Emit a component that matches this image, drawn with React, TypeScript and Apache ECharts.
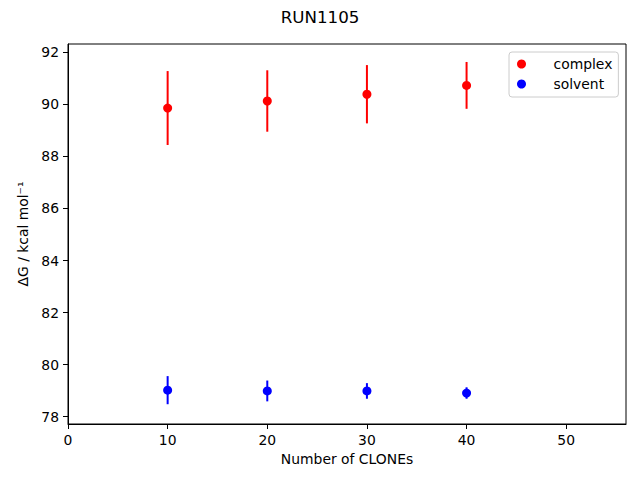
import React, { useEffect, useRef } from "react";
import * as echarts from "echarts";

const clones = [10, 20, 30, 40];
const complexDG = [89.86, 90.13, 90.39, 90.73];
const complexErr = [1.42, 1.18, 1.12, 0.9];
const solventDG = [79.02, 78.99, 78.99, 78.91];
const solventErr = [0.54, 0.4, 0.3, 0.22];
const xTicks = [0, 10, 20, 30, 40, 50];
const yTicks = [78, 80, 82, 84, 86, 88, 90, 92];

const FONT = "DejaVu Sans";

function errorSeries(name: string, vals: number[], errs: number[], color: string) {
  return {
    type: "custom",
    name: name + "-err",
    z: 1,
    silent: true,
    data: clones.map((c, i) => [c, vals[i] - errs[i], vals[i] + errs[i]]),
    renderItem: (params: any, api: any) => {
      const p1 = api.coord([api.value(0), api.value(1)]);
      const p2 = api.coord([api.value(0), api.value(2)]);
      return {
        type: "line",
        shape: { x1: p1[0], y1: p1[1], x2: p2[0], y2: p2[1] },
        style: { stroke: color, lineWidth: 2 },
      };
    },
  };
}

export default function App() {
  const ref = useRef<HTMLDivElement>(null);
  useEffect(() => {
    if (!ref.current) return;
    const chart = echarts.init(ref.current, undefined, { renderer: "svg" });
    chart.setOption({
      animation: false,
      backgroundColor: "#ffffff",
      textStyle: { fontFamily: FONT },
      title: {
        text: "RUN1105",
        left: "center",
        top: 8,
        padding: 0,
        textStyle: { fontFamily: FONT, fontSize: 16.7, fontWeight: "normal", color: "#000" },
      },
      grid: {
        left: 68,
        right: 14,
        top: 44,
        bottom: 56,
        show: true,
        borderColor: "#000",
        borderWidth: 1,
        backgroundColor: "transparent",
      },
      legend: {
        orient: "vertical",
        left: 509,
        top: 52,
        padding: [5, 6, 6, 8],
        itemWidth: 20,
        itemHeight: 9,
        itemGap: 6,
        backgroundColor: "rgba(255,255,255,0.8)",
        borderColor: "#cccccc",
        borderWidth: 1,
        borderRadius: 3,
        data: [
          { name: "complex", icon: "circle", itemStyle: { color: "#ff0000", opacity: 1 } },
          { name: "solvent", icon: "circle", itemStyle: { color: "#0000ff", opacity: 1 } },
        ],
        textStyle: {
          fontFamily: FONT,
          fontSize: 13.9,
          color: "#000",
          padding: [0, 0, 0, 17],
          lineHeight: 14,
        },
      },
      xAxis: {
        type: "value",
        min: 0,
        max: 56,
        interval: 10,
        name: "Number of CLONEs",
        nameLocation: "middle",
        nameGap: 26,
        nameTextStyle: { fontFamily: FONT, fontSize: 13.9, color: "#000" },
        axisLine: { show: true, onZero: false, lineStyle: { color: "#000", width: 1 } },
        axisTick: { show: true, length: 5, lineStyle: { color: "#000" }, customValues: xTicks },
        axisLabel: { fontFamily: FONT, fontSize: 13.9, color: "#000", margin: 9, customValues: xTicks },
        splitLine: { show: false },
      },
      yAxis: {
        type: "value",
        min: 77.72,
        max: 92.32,
        interval: 2,
        name: "ΔG / kcal mol⁻¹",
        nameLocation: "middle",
        nameGap: 36,
        nameRotate: 90,
        nameTextStyle: { fontFamily: FONT, fontSize: 13.9, color: "#000" },
        axisLine: { show: true, onZero: false, lineStyle: { color: "#000", width: 1 } },
        axisTick: { show: true, length: 5, lineStyle: { color: "#000" }, customValues: yTicks },
        axisLabel: { fontFamily: FONT, fontSize: 13.9, color: "#000", margin: 9, customValues: yTicks },
        splitLine: { show: false },
      },
      series: [
        errorSeries("complex", complexDG, complexErr, "#ff0000"),
        errorSeries("solvent", solventDG, solventErr, "#0000ff"),
        {
          type: "scatter",
          name: "complex",
          z: 3,
          symbol: "circle",
          symbolSize: 9,
          itemStyle: { color: "#ff0000", opacity: 1 },
          data: clones.map((c, i) => [c, complexDG[i]]),
        },
        {
          type: "scatter",
          name: "solvent",
          z: 3,
          symbol: "circle",
          symbolSize: 9,
          itemStyle: { color: "#0000ff", opacity: 1 },
          data: clones.map((c, i) => [c, solventDG[i]]),
        },
      ],
    });
    return () => chart.dispose();
  }, []);
  return <div ref={ref} style={{ width: 640, height: 480, position: "absolute", left: 0, top: 0 }} />;
}
